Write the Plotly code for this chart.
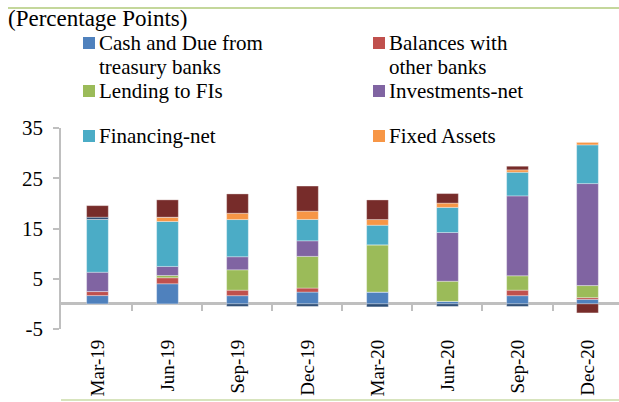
import plotly.graph_objects as go

categories = ["Mar-19", "Jun-19", "Sep-19", "Dec-19", "Mar-20", "Jun-20", "Sep-20", "Dec-20"]
cash_due = [1.65, 4.0, 1.63, 2.35, 2.35, 0.5, 1.63, 0.9]
balances_banks = [0.8, 1.2, 1.1, 0.8, 0.0, 0.0, 1.1, 0.34]
lending_fis = [0.0, 0.45, 4.05, 6.3, 9.4, 4.0, 2.86, 2.4]
investments_net = [3.85, 1.8, 2.6, 3.1, 0.0, 9.7, 15.9, 20.3]
financing_net = [10.5, 8.95, 7.4, 4.25, 3.9, 5.0, 4.7, 7.7]
fixed_assets = [0.0, 0.85, 1.25, 1.65, 1.13, 0.85, 0.48, 0.54]
deferred_tax = [0.45, 0.0, -0.5, -0.5, -0.6, -0.5, -0.5, 0.0]
other_assets = [2.3, 3.45, 3.85, 5.0, 3.9, 1.9, 0.72, -1.8]
y_ticks = [-5, 5, 15, 25, 35]
y_tick_text = ["-5", "5", "15", "25", "35"]

series = [
    (["Cash and Due from", "treasury banks"], cash_due, "#4F81BD", True),
    (["Balances with", "other banks"], balances_banks, "#C0504D", True),
    (["Lending to FIs"], lending_fis, "#9BBB59", True),
    (["Investments-net"], investments_net, "#8064A2", True),
    (["Financing-net"], financing_net, "#4BACC6", True),
    (["Fixed Assets"], fixed_assets, "#F79646", True),
    (["Deferred Tax Assets"], deferred_tax, "#2C4D75", False),
    (["Other Assets"], other_assets, "#772C2A", False),
]

FONT = "Liberation Serif"
W, H = 619, 402
L, T, B = 61, 128, 73
PW, PH = W - L, H - T - B


def px(xp):
    return (xp - L) / PW


def py(yp):
    return (H - B - yp) / PH


fig = go.Figure()
for lines, vals, color, show in series:
    fig.add_trace(go.Bar(
        x=categories, y=vals, name=" ".join(lines), marker_color=color,
        marker_line=dict(color="rgba(255,255,255,0.55)", width=0.6),
        showlegend=False,
    ))

annotations = [dict(text="(Percentage Points)", xref="paper", yref="paper",
                    x=px(7), y=py(19), xanchor="left", yanchor="middle", borderpad=0,
                    showarrow=False, font=dict(size=23, family=FONT))]
shapes = []
col_x = [83, 373]
row_y = [43, 91, 136]
legend_items = [s for s in series if s[3]]
for i, (lines, vals, color, show) in enumerate(legend_items):
    cx = col_x[i % 2]
    cy = row_y[i // 2]
    shapes.append(dict(type="rect", xref="paper", yref="paper",
                       x0=px(cx), x1=px(cx + 12), y0=py(cy - 6), y1=py(cy + 6),
                       fillcolor=color, line=dict(width=0)))
    for j, ln in enumerate(lines):
        annotations.append(dict(text=ln, xref="paper", yref="paper",
                                x=px(cx + 15), y=py(cy + 24 * j), xanchor="left",
                                yanchor="middle", showarrow=False, borderpad=0,
                                font=dict(size=21, family=FONT)))

shapes += [
    dict(type="line", xref="paper", yref="paper", x0=px(8), x1=1, y0=py(8), y1=py(8),
         line=dict(color="#C4D79B", width=2)),
    dict(type="line", xref="paper", yref="paper", x0=0, x1=1, y0=py(400), y1=py(400),
         line=dict(color="#D7E4BD", width=2)),
]

xr = [-0.521, 7.45]
fig.update_layout(
    width=W, height=H,
    margin=dict(l=L, r=0, t=T, b=B),
    barmode="relative", bargap=0.69,
    plot_bgcolor="white", paper_bgcolor="white",
    font=dict(family=FONT, color="#000000"),
    showlegend=False,
    xaxis=dict(type="category", range=xr, showline=False, ticks="", showgrid=False,
               tickangle=-90, tickfont=dict(size=19, family=FONT),
               ticklabelstandoff=6, zeroline=False),
    xaxis2=dict(overlaying="x", anchor="free", position=5 / 40, range=xr, type="linear",
                tickvals=[0.5, 1.5, 2.5, 3.5, 4.5, 5.5, 6.5], ticks="outside", ticklen=6,
                tickwidth=2, tickcolor="#BFBFBF", showticklabels=False, showgrid=False,
                showline=False, zeroline=False),
    yaxis=dict(range=[-5, 35], tickvals=y_ticks, ticktext=y_tick_text, showgrid=False,
               showline=True, linecolor="#BFBFBF", linewidth=1.5, ticks="outside",
               ticklen=6, tickcolor="#BFBFBF", tickwidth=1.5, zeroline=True,
               zerolinecolor="#BFBFBF", zerolinewidth=2.5,
               tickfont=dict(size=21, family=FONT), ticklabelstandoff=6),
    annotations=annotations,
    shapes=shapes,
)
fig.add_trace(go.Scatter(x=[0], y=[0], xaxis="x2", mode="markers",
                         marker=dict(opacity=0), showlegend=False, hoverinfo="skip"))

fig.write_html("out.html")
